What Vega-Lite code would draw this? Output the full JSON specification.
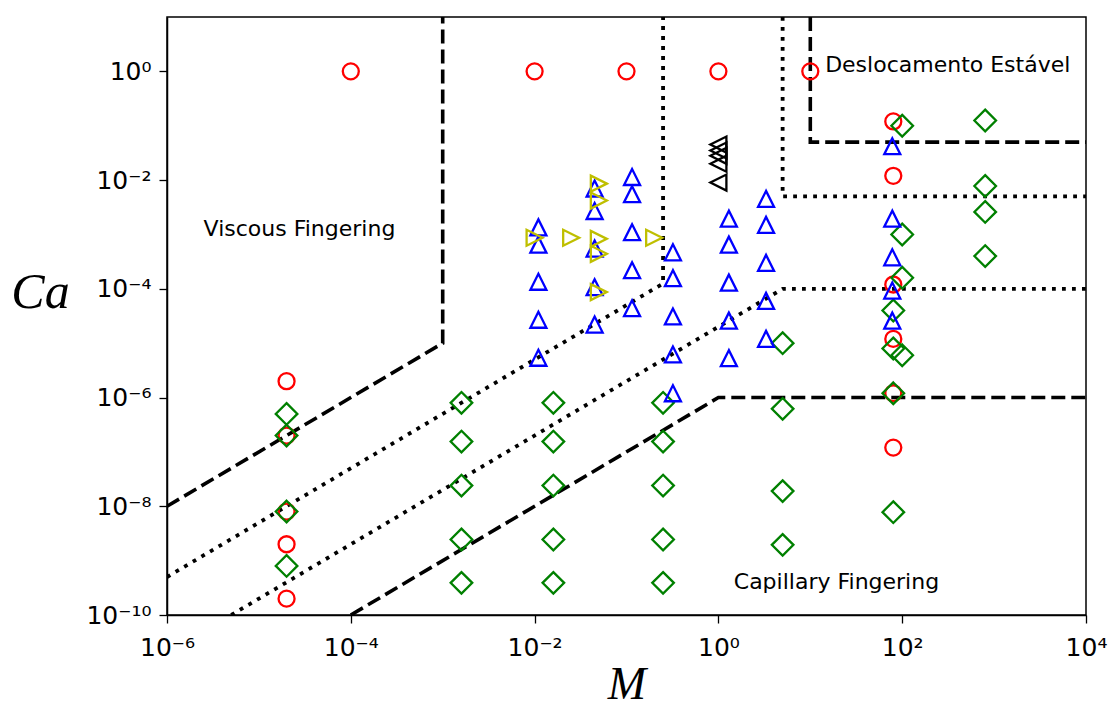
{
  "$schema": "https://vega.github.io/schema/vega-lite/v6.json",
  "width": 919,
  "height": 598,
  "autosize": {"type": "none"},
  "padding": {"left": 167, "top": 17, "right": 24, "bottom": 96},
  "background": "white",
  "config": {
    "view": {"stroke": "black", "strokeWidth": 1.5},
    "axis": {
      "grid": false,
      "domainColor": "black",
      "domainWidth": 1.5,
      "tickColor": "black",
      "tickWidth": 1.3,
      "tickSize": 8,
      "labelFont": "DejaVu Sans",
      "labelFontSize": 25,
      "labelColor": "black",
      "labelOverlap": false,
      "labelFlush": false,
      "titleFont": "Liberation Serif",
      "titleFontStyle": "italic",
      "titleFontWeight": "normal",
      "titleFontSize": 50,
      "titleColor": "black"
    }
  },
  "datasets": {
    "bounds": [
      {"curve": "A", "style": "dashed", "step": 1, "M": 1e-6, "Ca": 1e-8},
      {"curve": "A", "style": "dashed", "step": 2, "M": 1e-3, "Ca": 1e-5},
      {"curve": "A", "style": "dashed", "step": 3, "M": 1e-3, "Ca": 10},
      {"curve": "B", "style": "dashed", "step": 1, "M": 1e-4, "Ca": 1e-10},
      {"curve": "B", "style": "dashed", "step": 2, "M": 1, "Ca": 1e-6},
      {"curve": "B", "style": "dashed", "step": 3, "M": 1e4, "Ca": 1e-6},
      {"curve": "C", "style": "dashed", "step": 1, "M": 10, "Ca": 10},
      {"curve": "C", "style": "dashed", "step": 2, "M": 10, "Ca": 0.05},
      {"curve": "C", "style": "dashed", "step": 3, "M": 1e4, "Ca": 0.05},
      {"curve": "D", "style": "dotted", "step": 1, "M": 1e-6, "Ca": 5e-10},
      {"curve": "D", "style": "dotted", "step": 2, "M": 0.25, "Ca": 1.25e-4},
      {"curve": "D", "style": "dotted", "step": 3, "M": 0.25, "Ca": 10},
      {"curve": "E", "style": "dotted", "step": 1, "M": 5e-6, "Ca": 1e-10},
      {"curve": "E", "style": "dotted", "step": 2, "M": 5, "Ca": 1e-4},
      {"curve": "E", "style": "dotted", "step": 3, "M": 1e4, "Ca": 1e-4},
      {"curve": "F", "style": "dotted", "step": 1, "M": 5, "Ca": 10},
      {"curve": "F", "style": "dotted", "step": 2, "M": 5, "Ca": 5e-3},
      {"curve": "F", "style": "dotted", "step": 3, "M": 1e4, "Ca": 5e-3}
    ],
    "points": [
      {"kind": "stable", "M": 1e-4, "Ca": 1},
      {"kind": "stable", "M": 0.01, "Ca": 1},
      {"kind": "stable", "M": 0.1, "Ca": 1},
      {"kind": "stable", "M": 1, "Ca": 1},
      {"kind": "stable", "M": 10, "Ca": 1},
      {"kind": "stable", "M": 80, "Ca": 0.12},
      {"kind": "stable", "M": 80, "Ca": 0.012},
      {"kind": "stable", "M": 80, "Ca": 1.2e-4},
      {"kind": "stable", "M": 80, "Ca": 1.2e-5},
      {"kind": "stable", "M": 80, "Ca": 1.2e-6},
      {"kind": "stable", "M": 80, "Ca": 1.2e-7},
      {"kind": "stable", "M": 2e-5, "Ca": 2e-6},
      {"kind": "stable", "M": 2e-5, "Ca": 2e-7},
      {"kind": "stable", "M": 2e-5, "Ca": 8e-9},
      {"kind": "stable", "M": 2e-5, "Ca": 2e-9},
      {"kind": "stable", "M": 2e-5, "Ca": 2e-10},

      {"kind": "capillary", "M": 2e-5, "Ca": 5e-7},
      {"kind": "capillary", "M": 2e-5, "Ca": 2e-7},
      {"kind": "capillary", "M": 2e-5, "Ca": 8e-9},
      {"kind": "capillary", "M": 2e-5, "Ca": 8e-10},
      {"kind": "capillary", "M": 1.6e-3, "Ca": 8e-7},
      {"kind": "capillary", "M": 1.6e-3, "Ca": 1.55e-7},
      {"kind": "capillary", "M": 1.6e-3, "Ca": 2.4e-8},
      {"kind": "capillary", "M": 1.6e-3, "Ca": 2.45e-9},
      {"kind": "capillary", "M": 1.6e-3, "Ca": 3.9e-10},
      {"kind": "capillary", "M": 0.016, "Ca": 8e-7},
      {"kind": "capillary", "M": 0.016, "Ca": 1.55e-7},
      {"kind": "capillary", "M": 0.016, "Ca": 2.4e-8},
      {"kind": "capillary", "M": 0.016, "Ca": 2.45e-9},
      {"kind": "capillary", "M": 0.016, "Ca": 3.9e-10},
      {"kind": "capillary", "M": 0.25, "Ca": 8e-7},
      {"kind": "capillary", "M": 0.25, "Ca": 1.55e-7},
      {"kind": "capillary", "M": 0.25, "Ca": 2.4e-8},
      {"kind": "capillary", "M": 0.25, "Ca": 2.45e-9},
      {"kind": "capillary", "M": 0.25, "Ca": 3.9e-10},
      {"kind": "capillary", "M": 5, "Ca": 1e-5},
      {"kind": "capillary", "M": 5, "Ca": 6.2e-7},
      {"kind": "capillary", "M": 5, "Ca": 1.9e-8},
      {"kind": "capillary", "M": 5, "Ca": 1.95e-9},
      {"kind": "capillary", "M": 100, "Ca": 0.1},
      {"kind": "capillary", "M": 100, "Ca": 1e-3},
      {"kind": "capillary", "M": 100, "Ca": 1.6e-4},
      {"kind": "capillary", "M": 80, "Ca": 4e-5},
      {"kind": "capillary", "M": 80, "Ca": 8e-6},
      {"kind": "capillary", "M": 100, "Ca": 6e-6},
      {"kind": "capillary", "M": 80, "Ca": 1.2e-6},
      {"kind": "capillary", "M": 80, "Ca": 7.8e-9},
      {"kind": "capillary", "M": 800, "Ca": 0.125},
      {"kind": "capillary", "M": 800, "Ca": 7.8e-3},
      {"kind": "capillary", "M": 800, "Ca": 2.6e-3},
      {"kind": "capillary", "M": 800, "Ca": 4e-4},

      {"kind": "viscous", "M": 0.011, "Ca": 1.35e-3},
      {"kind": "viscous", "M": 0.011, "Ca": 6.5e-4},
      {"kind": "viscous", "M": 0.011, "Ca": 1.35e-4},
      {"kind": "viscous", "M": 0.011, "Ca": 2.7e-5},
      {"kind": "viscous", "M": 0.011, "Ca": 5.4e-6},
      {"kind": "viscous", "M": 0.045, "Ca": 7e-3},
      {"kind": "viscous", "M": 0.045, "Ca": 2.7e-3},
      {"kind": "viscous", "M": 0.045, "Ca": 5.5e-4},
      {"kind": "viscous", "M": 0.045, "Ca": 1.07e-4},
      {"kind": "viscous", "M": 0.045, "Ca": 2.2e-5},
      {"kind": "viscous", "M": 0.115, "Ca": 0.0114},
      {"kind": "viscous", "M": 0.115, "Ca": 5.5e-3},
      {"kind": "viscous", "M": 0.115, "Ca": 1.1e-3},
      {"kind": "viscous", "M": 0.115, "Ca": 2.2e-4},
      {"kind": "viscous", "M": 0.115, "Ca": 4.4e-5},
      {"kind": "viscous", "M": 0.32, "Ca": 4.7e-4},
      {"kind": "viscous", "M": 0.32, "Ca": 1.57e-4},
      {"kind": "viscous", "M": 0.32, "Ca": 3.1e-5},
      {"kind": "viscous", "M": 0.32, "Ca": 6.2e-6},
      {"kind": "viscous", "M": 0.32, "Ca": 1.2e-6},
      {"kind": "viscous", "M": 1.3, "Ca": 1.95e-3},
      {"kind": "viscous", "M": 1.3, "Ca": 6.5e-4},
      {"kind": "viscous", "M": 1.3, "Ca": 1.3e-4},
      {"kind": "viscous", "M": 1.3, "Ca": 2.6e-5},
      {"kind": "viscous", "M": 1.3, "Ca": 5.3e-6},
      {"kind": "viscous", "M": 3.3, "Ca": 4.5e-3},
      {"kind": "viscous", "M": 3.3, "Ca": 1.5e-3},
      {"kind": "viscous", "M": 3.3, "Ca": 3e-4},
      {"kind": "viscous", "M": 3.3, "Ca": 6e-5},
      {"kind": "viscous", "M": 3.3, "Ca": 1.2e-5},
      {"kind": "viscous", "M": 78, "Ca": 0.042},
      {"kind": "viscous", "M": 78, "Ca": 1.95e-3},
      {"kind": "viscous", "M": 78, "Ca": 3.8e-4},
      {"kind": "viscous", "M": 78, "Ca": 9.3e-5},
      {"kind": "viscous", "M": 78, "Ca": 2.6e-5},

      {"kind": "crossover", "M": 0.01, "Ca": 8.7e-4},
      {"kind": "crossover", "M": 0.025, "Ca": 8.7e-4},
      {"kind": "crossover", "M": 0.05, "Ca": 8.6e-3},
      {"kind": "crossover", "M": 0.05, "Ca": 4.2e-3},
      {"kind": "crossover", "M": 0.05, "Ca": 8.3e-4},
      {"kind": "crossover", "M": 0.05, "Ca": 4.4e-4},
      {"kind": "crossover", "M": 0.05, "Ca": 8.7e-5},
      {"kind": "crossover", "M": 0.2, "Ca": 8.7e-4},

      {"kind": "transition", "M": 1, "Ca": 0.045},
      {"kind": "transition", "M": 1, "Ca": 0.035},
      {"kind": "transition", "M": 1, "Ca": 0.028},
      {"kind": "transition", "M": 1, "Ca": 0.02},
      {"kind": "transition", "M": 1, "Ca": 0.009}
    ],
    "regions": [
      {"M": 2.5e-6, "Ca": 9.5e-4, "txt": "Viscous Fingering"},
      {"M": 14.5, "Ca": 0.97, "txt": "Deslocamento Estável"},
      {"M": 1.47, "Ca": 3e-10, "txt": "Capillary Fingering"}
    ]
  },
  "encoding": {
    "x": {
      "field": "M",
      "type": "quantitative",
      "scale": {"type": "log", "domain": [1e-6, 1e4], "nice": false},
      "axis": {
        "values": [1e-6, 1e-4, 1e-2, 1, 100, 1e4],
        "labelExpr": "datum.value < 1e-9 ? '10⁻¹⁰' : datum.value < 1e-7 ? '10⁻⁸' : datum.value < 1e-5 ? '10⁻⁶' : datum.value < 1e-3 ? '10⁻⁴' : datum.value < 0.1 ? '10⁻²' : datum.value < 10 ? '10⁰' : datum.value < 1000 ? '10²' : '10⁴'",
        "labelPadding": 12,
        "title": "M",
        "titleY": 83,
        "titleFontSize": 46,
        "titleBaseline": "alphabetic"
      }
    },
    "y": {
      "field": "Ca",
      "type": "quantitative",
      "scale": {"type": "log", "domain": [1e-10, 10], "nice": false},
      "axis": {
        "values": [1e-10, 1e-8, 1e-6, 1e-4, 1e-2, 1],
        "labelExpr": "datum.value < 1e-9 ? '10⁻¹⁰' : datum.value < 1e-7 ? '10⁻⁸' : datum.value < 1e-5 ? '10⁻⁶' : datum.value < 1e-3 ? '10⁻⁴' : datum.value < 0.1 ? '10⁻²' : datum.value < 10 ? '10⁰' : datum.value < 1000 ? '10²' : '10⁴'",
        "labelPadding": 8,
        "title": "Ca",
        "titleAngle": 0,
        "titleX": -127,
        "titleY": 290,
        "titleAlign": "center",
        "titleBaseline": "alphabetic"
      }
    }
  },
  "layer": [
    {
      "data": {"name": "bounds"},
      "transform": [{"filter": "datum.style == 'dashed'"}],
      "mark": {"type": "line", "stroke": "black", "strokeWidth": 3.6, "strokeDash": [14, 6], "strokeCap": "butt", "clip": true},
      "encoding": {"detail": {"field": "curve"}, "order": {"field": "step"}}
    },
    {
      "data": {"name": "bounds"},
      "transform": [{"filter": "datum.style == 'dotted'"}],
      "mark": {"type": "line", "stroke": "black", "strokeWidth": 3.8, "strokeDash": [3.8, 6.2], "strokeCap": "butt", "clip": true},
      "encoding": {"detail": {"field": "curve"}, "order": {"field": "step"}}
    },
    {
      "data": {"name": "points"},
      "mark": {"type": "point", "filled": false, "strokeWidth": 2.3, "opacity": 1, "size": 256, "strokeJoin": "miter"},
      "encoding": {
        "shape": {
          "field": "kind",
          "type": "nominal",
          "scale": {
            "domain": ["stable", "capillary", "viscous", "crossover", "transition"],
            "range": ["circle", "M0,-1.35L1.35,0L0,1.35L-1.35,0Z", "M0,-1L-1,1L1,1Z", "M1,0L-1,-1L-1,1Z", "M-1,0L1,-1L1,1Z"]
          },
          "legend": null
        },
        "color": {
          "field": "kind",
          "type": "nominal",
          "scale": {
            "domain": ["stable", "capillary", "viscous", "crossover", "transition"],
            "range": ["#ff0000", "#008000", "#0000ff", "#bfbf00", "#000000"]
          },
          "legend": null
        }
      }
    },
    {
      "data": {"name": "regions"},
      "mark": {"type": "text", "align": "left", "baseline": "alphabetic", "font": "DejaVu Sans", "fontSize": 22, "color": "black"},
      "encoding": {"text": {"field": "txt"}}
    }
  ]
}
